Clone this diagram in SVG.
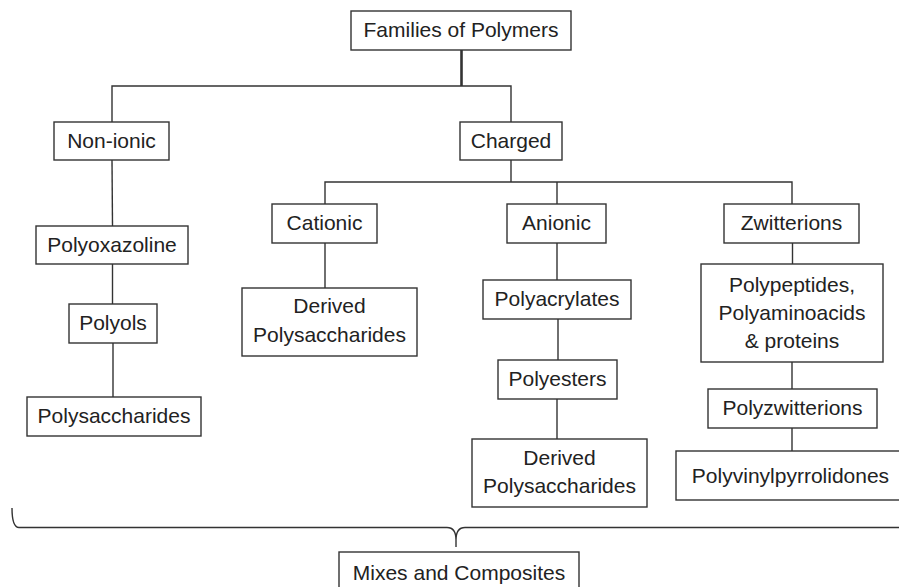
<svg xmlns="http://www.w3.org/2000/svg" width="899" height="587" viewBox="0 0 899 587">
<style>
.box{fill:#fff;stroke:#333;stroke-width:1.4}
.t{font-family:"Liberation Sans",Arial,sans-serif;font-size:21px;fill:#222;text-anchor:middle}
.c{fill:none;stroke:#333;stroke-width:1.4}
</style>
<rect width="899" height="587" fill="#fff"/>
<g id="connectors">
<line class="c" x1="461.5" y1="50" x2="461.5" y2="86" style="stroke-width:2.6"/>
<polyline class="c" points="112,122 112,86 511,86 511,122"/>
<line class="c" x1="112" y1="160" x2="112.5" y2="226"/>
<line class="c" x1="112.5" y1="264" x2="112.5" y2="304"/>
<line class="c" x1="113" y1="343" x2="113" y2="397"/>
<line class="c" x1="511" y1="160" x2="511" y2="182"/>
<polyline class="c" points="325,204 325,182 792,182 792,204"/>
<line class="c" x1="557" y1="182" x2="557" y2="204"/>
<line class="c" x1="325" y1="243" x2="325" y2="288"/>
<line class="c" x1="557" y1="243" x2="557" y2="280"/>
<line class="c" x1="558" y1="319" x2="558" y2="360"/>
<line class="c" x1="557" y1="399" x2="557" y2="439"/>
<line class="c" x1="792.5" y1="243" x2="792.5" y2="264"/>
<line class="c" x1="792" y1="362" x2="792" y2="389"/>
<line class="c" x1="792" y1="428" x2="792" y2="451"/>
<path id="brace" class="c" d="M12,508 Q12,527.5 19,527.5 H447 Q456,527.5 456,540 V547 V540 Q456,527.5 465,527.5 H905"/>
</g>
<g id="families"><rect class="box" x="351" y="11" width="220" height="39"/><text class="t" x="461" y="37">Families of Polymers</text></g>
<g id="nonionic"><rect class="box" x="54" y="122" width="115" height="38"/><text class="t" x="111.5" y="148">Non-ionic</text></g>
<g id="charged"><rect class="box" x="460" y="122" width="102" height="38"/><text class="t" x="511" y="148">Charged</text></g>
<g id="cationic"><rect class="box" x="272" y="204" width="105" height="39"/><text class="t" x="324.5" y="230">Cationic</text></g>
<g id="anionic"><rect class="box" x="507" y="204" width="99" height="39"/><text class="t" x="556.5" y="230">Anionic</text></g>
<g id="zwitterions"><rect class="box" x="724" y="204" width="135" height="39"/><text class="t" x="791.5" y="230">Zwitterions</text></g>
<g id="polyoxazoline"><rect class="box" x="36" y="226" width="152" height="38"/><text class="t" x="112" y="252">Polyoxazoline</text></g>
<g id="polyols"><rect class="box" x="69" y="304" width="88" height="39"/><text class="t" x="113" y="330">Polyols</text></g>
<g id="polysaccharides"><rect class="box" x="27" y="397" width="174" height="39"/><text class="t" x="114" y="423">Polysaccharides</text></g>
<g id="derived-cationic"><rect class="box" x="242" y="288" width="175" height="68"/><text class="t" x="329.5" y="313">Derived</text><text class="t" x="329.5" y="342">Polysaccharides</text></g>
<g id="polyacrylates"><rect class="box" x="483" y="280" width="148" height="39"/><text class="t" x="557" y="306">Polyacrylates</text></g>
<g id="polyesters"><rect class="box" x="498" y="360" width="119" height="39"/><text class="t" x="557.5" y="386">Polyesters</text></g>
<g id="derived-anionic"><rect class="box" x="472" y="439" width="175" height="68"/><text class="t" x="559.5" y="465">Derived</text><text class="t" x="559.5" y="493">Polysaccharides</text></g>
<g id="polypeptides"><rect class="box" x="701" y="264" width="182" height="98"/><text class="t" x="792" y="292">Polypeptides,</text><text class="t" x="792" y="320">Polyaminoacids</text><text class="t" x="792" y="348">&amp; proteins</text></g>
<g id="polyzwitterions"><rect class="box" x="708" y="389" width="169" height="39"/><text class="t" x="792.5" y="415">Polyzwitterions</text></g>
<g id="polyvinylpyrrolidones"><rect class="box" x="676" y="451" width="229" height="49"/><text class="t" x="790.5" y="483">Polyvinylpyrrolidones</text></g>
<g id="mixes"><rect class="box" x="339" y="552" width="240" height="40"/><text class="t" x="459" y="580">Mixes and Composites</text></g>
</svg>
